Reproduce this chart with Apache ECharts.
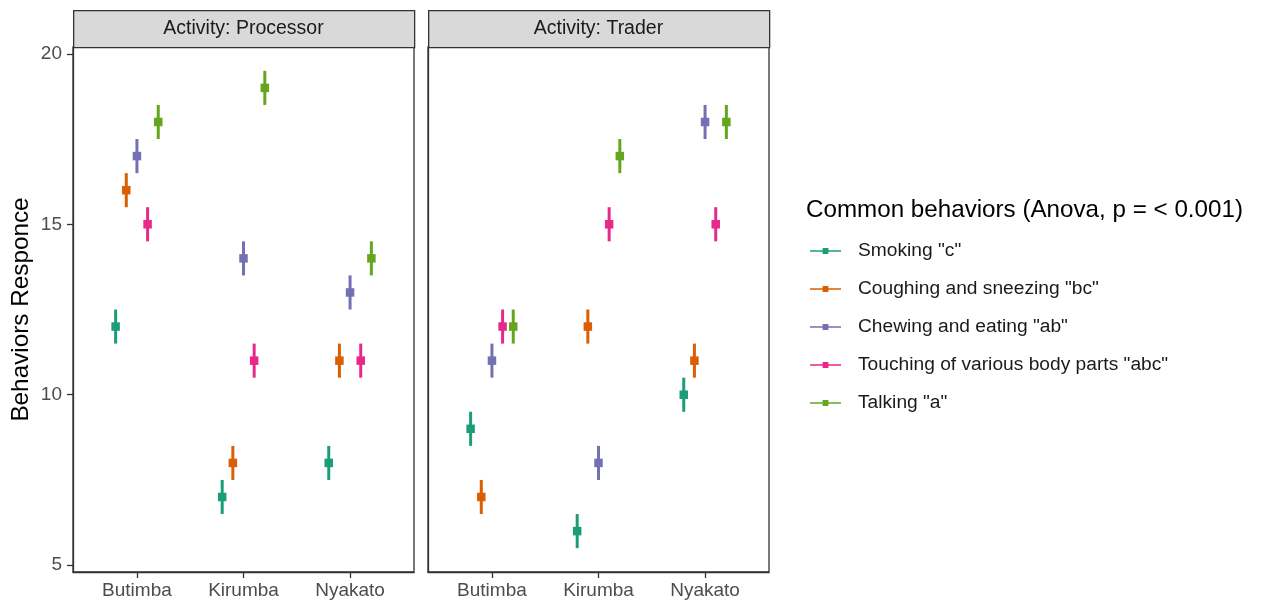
<!DOCTYPE html>
<html>
<head>
<meta charset="utf-8">
<script src="https://cdn.jsdelivr.net/npm/echarts@6/dist/echarts.min.js"></script>
<style>
html,body{margin:0;padding:0;background:#fff;}
#chart{width:1261px;height:603px;}
</style>
</head>
<body>
<div id="chart"></div>
<script>
// ---- data ----
const locations = ['Butimba', 'Kirumba', 'Nyakato'];
const panels = ['Activity: Processor', 'Activity: Trader'];
const behaviors = ['Smoking "c"', 'Coughing and sneezing "bc"', 'Chewing and eating "ab"', 'Touching of various body parts "abc"', 'Talking "a"'];
const colors = ['#1B9E77', '#D95F02', '#7570B3', '#E7298A', '#66A61E'];
const yTicks = [5, 10, 15, 20];

// Processor panel means (Butimba, Kirumba, Nyakato)
const procSmoking  = [12, 7, 8];
const procCoughing = [16, 8, 11];
const procChewing  = [17, 14, 13];
const procTouching = [15, 11, 11];
const procTalking  = [18, 19, 14];
// Trader panel means
const tradSmoking  = [9, 6, 10];
const tradCoughing = [7, 12, 11];
const tradChewing  = [11, 8, 18];
const tradTouching = [12, 15, 15];
const tradTalking  = [12, 17, 18];
// half-width of the error bars
const errorHalf = 0.5;

const panelData = [
  [procSmoking, procCoughing, procChewing, procTouching, procTalking],
  [tradSmoking, tradCoughing, tradChewing, tradTouching, tradTalking]
];

// ---- layout ----
const FONT = '"Liberation Sans", Arial, Helvetica, sans-serif';
const gridLeft = [73, 428];
const gridTop = 47, gridW = 341, gridH = 525;
const dodge = 0.1;

function renderItem(params, api) {
  const x = api.value(0), y = api.value(1), lo = api.value(2), hi = api.value(3);
  const c = api.coord([x, y]);
  const cl = api.coord([x, lo]);
  const ch = api.coord([x, hi]);
  const color = api.visual('color');
  return {
    type: 'group',
    children: [
      {type: 'line', shape: {x1: cl[0], y1: cl[1], x2: ch[0], y2: ch[1]}, style: {stroke: color, lineWidth: 3}},
      {type: 'rect', shape: {x: c[0] - 4.25, y: c[1] - 4.25, width: 8.5, height: 8.5}, style: {fill: color}}
    ]
  };
}

const grids = [], xAxes = [], yAxes = [], series = [], graphics = [];
panels.forEach((p, pi) => {
  grids.push({left: gridLeft[pi], top: gridTop, width: gridW, height: gridH, show: true, borderColor: '#333333', borderWidth: 1.3, backgroundColor: '#fff'});
  xAxes.push({
    type: 'value', gridIndex: pi, min: 0.4, max: 3.6,
    splitLine: {show: false},
    axisLine: {show: true, lineStyle: {color: '#333333', width: 1.3}},
    axisTick: {show: true, customValues: [1, 2, 3], length: 6, lineStyle: {color: '#333333', width: 1.3}},
    axisLabel: {show: true, customValues: [1, 2, 3], formatter: v => locations[Math.round(v) - 1] || '', color: '#4D4D4D', fontSize: 19, fontFamily: FONT, margin: 9}
  });
  yAxes.push({
    type: 'value', gridIndex: pi, min: 4.8, max: 20.2,
    splitLine: {show: false},
    axisLine: {show: true, lineStyle: {color: '#333333', width: 1.3}},
    axisTick: {show: pi === 0, customValues: yTicks, length: 6, lineStyle: {color: '#333333', width: 1.3}},
    axisLabel: {show: pi === 0, customValues: yTicks, color: '#4D4D4D', fontSize: 19, fontFamily: FONT, margin: 11},
    name: pi === 0 ? 'Behaviors Responce' : '',
    nameLocation: 'middle', nameGap: 40, nameRotate: 90,
    nameTextStyle: {fontSize: 24.3, color: '#000', fontFamily: FONT}
  });
  graphics.push({
    type: 'rect', left: gridLeft[pi], top: 10,
    shape: {width: gridW, height: 37},
    style: {fill: '#D9D9D9', stroke: '#333333', lineWidth: 1.3}
  });
  graphics.push({
    type: 'text', x: gridLeft[pi] + gridW / 2, y: 29,
    style: {text: p, fill: '#1A1A1A', font: '19.5px ' + FONT, textAlign: 'center', textVerticalAlign: 'middle'}
  });
  behaviors.forEach((b, bi) => {
    const vals = panelData[pi][bi];
    series.push({
      type: 'custom', name: b, xAxisIndex: pi, yAxisIndex: pi,
      renderItem: renderItem,
      itemStyle: {color: colors[bi]},
      encode: {x: 0, y: 1},
      data: vals.map((v, li) => [li + 1 + (bi - 2) * dodge, v, v - errorHalf, v + errorHalf])
    });
  });
});

const chart = echarts.init(document.getElementById('chart'), null, {renderer: 'canvas'});
chart.setOption({
  animation: false,
  backgroundColor: '#fff',
  color: colors,
  title: {
    text: 'Common behaviors (Anova, p = < 0.001)',
    left: 801, top: 193,
    textStyle: {fontSize: 24.2, fontWeight: 'normal', color: '#000', fontFamily: FONT}
  },
  legend: {
    orient: 'vertical', left: 810, top: 241, padding: 0,
    data: behaviors,
    icon: 'path://M0,2.2H32V3.8H0Z M13,0H19V6H13Z',
    itemWidth: 31, itemHeight: 6, itemGap: 18,
    itemStyle: {borderWidth: 0},
    textStyle: {fontSize: 19.2, color: '#1A1A1A', fontFamily: FONT, lineHeight: 20, padding: [0, 0, 0, 12]}
  },
  grid: grids,
  xAxis: xAxes,
  yAxis: yAxes,
  graphic: graphics,
  series: series
});
</script>
</body>
</html>
